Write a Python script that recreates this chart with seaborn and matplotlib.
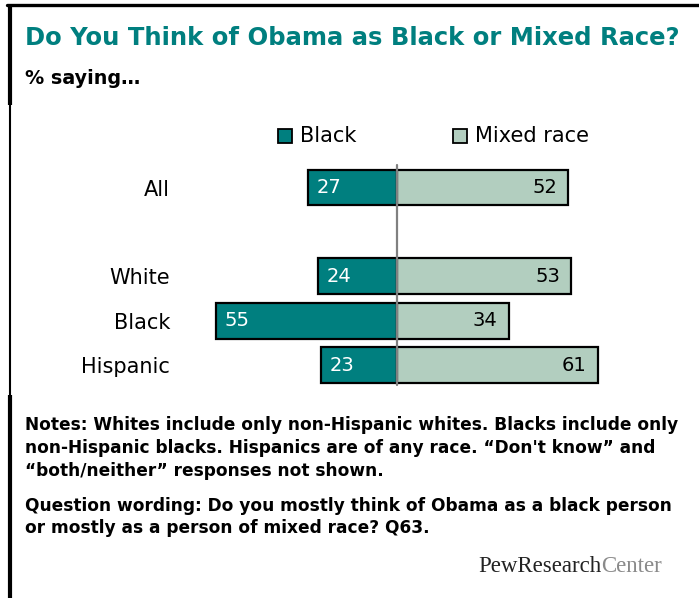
import matplotlib
matplotlib.use("Agg")
import matplotlib.pyplot as plt
from matplotlib import font_manager
from matplotlib.lines import Line2D
from matplotlib.patches import Rectangle
import pandas as pd
import seaborn as sns

# --- data -------------------------------------------------------------
groups = ["All", "White", "Black", "Hispanic"]
black_pct = [27, 24, 55, 23]
mixed_pct = [52, 53, 34, 61]
series = ["Black", "Mixed race"]
row_order = ["All", " ", "White", "Black", "Hispanic"]   # blank row separates "All"

title = "Do You Think of Obama as Black or Mixed Race?"
subtitle = "% saying\u2026"
notes = [
    "Notes: Whites include only non-Hispanic whites. Blacks include only",
    "non-Hispanic blacks. Hispanics are of any race. \u201cDon't know\u201d and",
    "\u201cboth/neither\u201d responses not shown.",
]
wording = [
    "Question wording: Do you mostly think of Obama as a black person",
    "or mostly as a person of mixed race? Q63.",
]

TEAL = "#007F7F"
SAGE = "#B2CEBF"
W, H = 699, 598


def pick_font(cands):
    for c in cands:
        try:
            font_manager.findfont(font_manager.FontProperties(family=c),
                                  fallback_to_default=False)
            return c
        except ValueError:
            pass
    return "DejaVu Sans"


sns.set_theme(style="white")
plt.rcParams["font.family"] = ["DejaVu Sans"]
plt.rcParams["text.color"] = "black"
NARROW = pick_font(["Liberation Sans Narrow", "DejaVu Sans"])
SERIF = pick_font(["Liberation Serif", "DejaVu Serif"])

rows = []
for g, b, m in zip(groups, black_pct, mixed_pct):
    rows.append({"group": g, "response": series[0], "value": b, "signed": -b})
    rows.append({"group": g, "response": series[1], "value": m, "signed": m})
df = pd.DataFrame(rows)

fig = plt.figure(figsize=(W / 100, H / 100), dpi=100)
fig.patch.set_facecolor("white")


def fx(x):
    return x / W


def fy(y):
    return 1 - y / H


# plotting area: x pixels 200..620, y pixels 160..390
ax = fig.add_axes([fx(200), fy(390), 420 / W, 230 / H])
sns.barplot(data=df, x="signed", y="group", hue="response", order=row_order,
            hue_order=series, palette=[TEAL, SAGE], saturation=1, dodge=False,
            width=0.81, edgecolor="black", linewidth=1.6, errorbar=None,
            legend=False, orient="h", ax=ax)

scale = 3.29  # pixels per percentage point
ax.set_xlim(-197 / scale, 223 / scale)
k0, step = 187.5, 44.4
ax.set_ylim((390 - k0) / step, (160 - k0) / step)

ax.axvline(0, ymin=5 / 230, ymax=225 / 230, color="#808080", lw=1.6, zorder=6)

for g, b, m in zip(groups, black_pct, mixed_pct):
    k = row_order.index(g)
    ax.annotate(str(b), xy=(-b, k), xytext=(6, 0), textcoords="offset points",
                ha="left", va="center", color="white", fontsize=14)
    ax.annotate(str(m), xy=(m, k), xytext=(-8, 0), textcoords="offset points",
                ha="right", va="center", color="black", fontsize=14)

ax.set_yticks(range(len(row_order)))
ax.set_yticklabels(row_order)
ax.tick_params(axis="y", length=0, pad=21.6, labelsize=15, labelcolor="black")
ax.set_xticks([])
ax.set_xlabel("")
ax.set_ylabel("")
for s in ax.spines.values():
    s.set_visible(False)
ax.set_facecolor("none")

# legend
for x0, label, color in [(278, series[0], TEAL), (453, series[1], SAGE)]:
    fig.add_artist(Rectangle((fx(x0), fy(143)), 14 / W, 14 / H,
                             transform=fig.transFigure, facecolor=color,
                             edgecolor="black", lw=1.3))
    fig.text(fx(x0 + 22), fy(136), label, ha="left", va="center",
             fontsize=15, color="black")

# frame
fig.add_artist(Line2D([fx(7), 1], [fy(5), fy(5)], color="black", lw=2.4,
                      transform=fig.transFigure))
fig.add_artist(Line2D([fx(9.5), fx(9.5)], [fy(4), fy(105)], color="black",
                      lw=3.0, transform=fig.transFigure, solid_capstyle="butt"))
fig.add_artist(Line2D([fx(9.5), fx(9.5)], [fy(105), fy(395)], color="black",
                      lw=1.5, transform=fig.transFigure, solid_capstyle="butt"))
fig.add_artist(Line2D([fx(9.5), fx(9.5)], [fy(395), 0], color="black",
                      lw=3.0, transform=fig.transFigure, solid_capstyle="butt"))


def fit_width(t, target):
    fig.canvas.draw()
    r = fig.canvas.get_renderer()
    w = t.get_window_extent(r).width
    t.set_fontsize(t.get_fontsize() * target / w)


t_title = fig.text(fx(25), fy(38), title, ha="left", va="center",
                   color=TEAL, fontsize=20, fontweight="bold", family=NARROW)
fit_width(t_title, 657)

t_sub = fig.text(fx(25), fy(78), subtitle, ha="left", va="center",
                 color="black", fontsize=14, fontweight="bold", family=NARROW)
fit_width(t_sub, 115)

note_texts = []
for line, y in zip(notes + wording, [425, 448, 471, 506, 528]):
    note_texts.append(fig.text(fx(25), fy(y), line, ha="left", va="center",
                               color="black", fontsize=12, fontweight="bold",
                               family=NARROW))
fit_width(note_texts[0], 651)
for t in note_texts[1:]:
    t.set_fontsize(note_texts[0].get_fontsize())

# logo
logo_size = 16.5
t_pew = fig.text(fx(478), fy(566), "PewResearch", ha="left", va="center",
                 color="#222222", fontsize=logo_size, family=SERIF)
fig.canvas.draw()
bb = t_pew.get_window_extent(fig.canvas.get_renderer())
fig.text(bb.x1 / W, fy(566), "Center", ha="left", va="center",
         color="#8a8a8a", fontsize=logo_size, family=SERIF)

fig.savefig("out.png", dpi=100, facecolor="white")
